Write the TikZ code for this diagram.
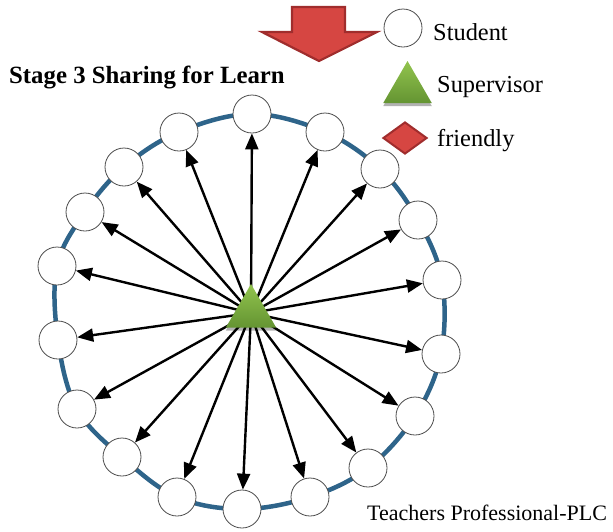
\documentclass[tikz,border=0pt]{standalone}
\usepackage{fontspec}
\setmainfont{Liberation Serif}
\usetikzlibrary{arrows.meta,shapes.geometric,shadows}

\definecolor{ringblue}{RGB}{46,100,138}
\definecolor{alertred}{RGB}{214,70,66}
\definecolor{alertdark}{RGB}{160,45,45}
\definecolor{greentop}{RGB}{146,196,78}
\definecolor{greenbot}{RGB}{100,148,50}

\tikzset{
  student/.style={circle, draw=black!70, line width=0.8pt, fill=white,
                  minimum size=38pt, inner sep=0pt},
  supervisor/.style={regular polygon, regular polygon sides=3, inner sep=0pt,
                  top color=greentop, bottom color=greenbot, draw=none,
                  drop shadow={shadow xshift=0pt, shadow yshift=-3pt,
                               opacity=0.3, fill=black}},
  friendlymark/.style={diamond, fill=alertred, draw=alertdark, line width=2pt,
                  minimum width=44pt, minimum height=32pt, inner sep=0pt},
  ringline/.style={draw=ringblue, line width=4.5pt},
  spoke/.style={draw=black, line width=2.4pt,
                -{Triangle[length=16pt,width=13pt]}},
  bigarrow/.style={fill=alertred, draw=alertdark, line width=2.2pt,
                   line join=miter},
  legendtext/.style={anchor=base west, inner sep=0pt,
                     font=\fontsize{24.4}{28}\selectfont},
}

\begin{document}
\begin{tikzpicture}[x=1pt,y=1pt]
\useasboundingbox (0,0) rectangle (613,-531);

% down arrow
\draw[bigarrow] (292,-7) -- (345,-7) -- (345,-32) -- (377,-32) -- (319,-61)
  -- (262,-32) -- (292,-32) -- cycle;

% legend
\node[student] (legstudent) at (403,-28) {};
\node[legendtext] (tstudent) at (433,-40) {Student};
\node[supervisor, minimum size=56pt] (legsup) at (407.5,-89) {};
\node[legendtext] (tsup) at (437,-92) {Supervisor};
\node[friendlymark] (legfriend) at (405,-138) {};
\node[legendtext] (tfriend) at (437,-146) {friendly};

% title and caption
\node[anchor=base west, inner sep=0pt, font=\bfseries\fontsize{24.8}{28}\selectfont]
  (title) at (9,-83) {Stage 3 Sharing for Learn};
\node[anchor=base west, inner sep=0pt, font=\fontsize{22}{26}\selectfont]
  (caption) at (367,-520) {Teachers Professional-PLC};

% ring of the community
\draw[ringline] plot[smooth cycle, tension=0.6] coordinates {
  (252,-114) (325,-132) (380,-169) (418,-220) (442,-280) (441,-354)
  (415,-416) (368,-468) (310,-497) (242,-509) (177,-497) (122,-457)
  (77,-409) (58,-340) (57,-266) (85,-212) (124,-167) (179,-132)};

% students
\node[student] (s1)  at (252,-114) {};
\node[student] (s2)  at (325,-132) {};
\node[student] (s3)  at (380,-169) {};
\node[student] (s4)  at (418,-220) {};
\node[student] (s5)  at (442,-280) {};
\node[student] (s6)  at (441,-354) {};
\node[student] (s7)  at (415,-416) {};
\node[student] (s8)  at (368,-468) {};
\node[student] (s9)  at (310,-497) {};
\node[student] (s10) at (242,-509) {};
\node[student] (s11) at (177,-497) {};
\node[student] (s12) at (122,-457) {};
\node[student] (s13) at (77,-409) {};
\node[student] (s14) at (58,-340) {};
\node[student] (s15) at (57,-266) {};
\node[student] (s16) at (85,-212) {};
\node[student] (s17) at (124,-167) {};
\node[student] (s18) at (179,-132) {};

% spokes from the supervisor
\coordinate (hub) at (251,-313);
\foreach \i in {1,...,18} {
  \draw[spoke] (hub) -- (s\i);
}

% supervisor
\node[supervisor, minimum size=58pt] (sup) at (251,-313) {};
\end{tikzpicture}
\end{document}
